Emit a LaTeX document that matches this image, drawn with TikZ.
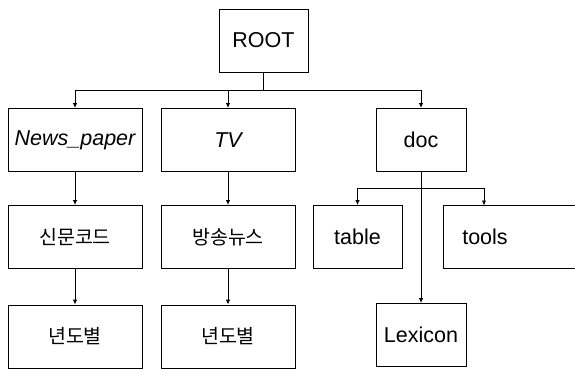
\documentclass[tikz,border=0pt]{standalone}
\usepackage{fontspec}
\setmainfont{Liberation Sans}
\newfontfamily\kr{Noto Sans CJK KR}
\usetikzlibrary{arrows.meta}
\begin{document}
\begin{tikzpicture}[x=1pt,y=-1pt,
  box/.style={draw,line width=0.9pt,minimum width=#1,minimum height=63pt,inner sep=0pt,font=\fontsize{21.5}{25}\selectfont},
  box/.default=134pt,
  kbox/.style={box=#1,font=\kr\fontsize{19.5}{23}\selectfont},
  kbox/.default=134pt,
  link/.style={line width=0.9pt},
  arr/.style={link,-{Latex[length=5pt,width=4.5pt]}}]
\useasboundingbox (0,0) rectangle (575,369);
% nodes
\node[box=89pt] (root) at (263.5,40.5) {ROOT};
\node[box] (news) at (75,140) {\itshape News\_paper};
\node[box] (tv) at (228,140) {\itshape TV};
\node[box=90pt] (doc) at (421,140) {doc};
\node[kbox] (sinmun) at (75,237) {신문코드};
\node[kbox] (bangsong) at (228,237) {방송뉴스};
\node[box=89pt] (table) at (357.5,237) {table};
\node[font=\fontsize{21.5}{25}\selectfont,inner sep=0pt] (tools) at (485,237) {tools};
\draw[line width=0.9pt] (443,205.5) rectangle (578,268.5);
\coordinate (toolsin) at (484,205.5);
\node[kbox] (year1) at (75,336.5) {년도별};
\node[kbox] (year2) at (228,336.5) {년도별};
\node[box=90pt] (lex) at (421,335) {Lexicon};
% connectors
\coordinate (j1) at (263.5,90);
\draw[link] (root.south) -- (j1);
\draw[arr] (j1) -| (news.north);
\draw[arr] (j1) -| (tv.north);
\draw[arr] (j1) -| (doc.north);
\draw[arr] (news.south) -- (sinmun.north);
\draw[arr] (sinmun.south) -- (year1.north);
\draw[arr] (tv.south) -- (bangsong.north);
\draw[arr] (bangsong.south) -- (year2.north);
\draw[arr] (doc.south) -- (lex.north);
\coordinate (j2) at (421,188);
\draw[arr] (j2) -| (table.north);
\draw[arr] (j2) -| (toolsin);
\end{tikzpicture}
\end{document}
